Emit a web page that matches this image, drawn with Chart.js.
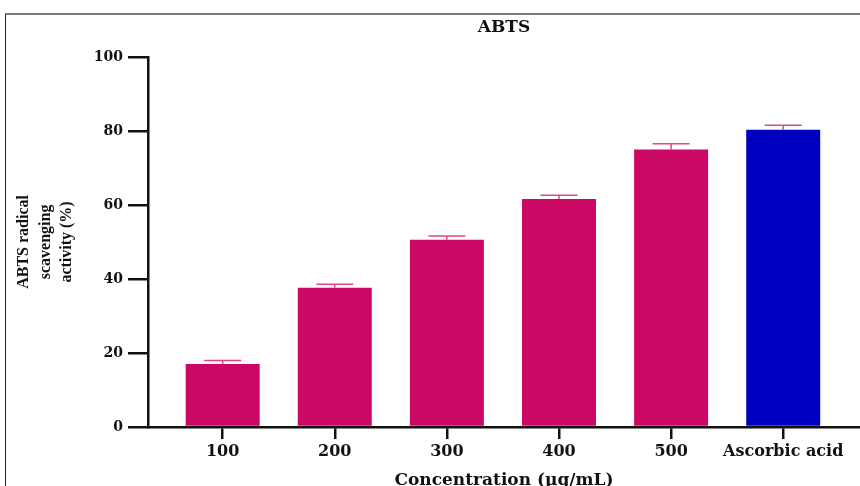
<!DOCTYPE html>
<html>
<head>
<meta charset="utf-8">
<script src="https://cdn.jsdelivr.net/npm/chart.js@4"></script>
<style>
  html, body { margin: 0; padding: 0; background: #fff; overflow: hidden; }
  #wrap { position: relative; width: 860px; height: 486px; }
  #frame {
    position: absolute; left: 5px; top: 13px; right: 0; bottom: 0;
    border-top: 2.5px solid #7a7a7a; border-left: 1.5px solid #222;
    pointer-events: none;
  }
  canvas { position: absolute; left: 0; top: 0; }
</style>
</head>
<body>
<div id="wrap">
  <canvas id="chart" width="860" height="486"></canvas>
  <div id="frame"></div>
</div>
<script>
// chart data
const categories = ['100', '200', '300', '400', '500', 'Ascorbic acid'];
const activity = [17.0, 37.6, 50.6, 61.6, 75.0, 80.3];
const errors = [1.0, 1.0, 1.0, 1.0, 1.5, 1.2];
const barColors = ['#cc0866', '#cc0866', '#cc0866', '#cc0866', '#cc0866', '#0000c0'];
const yTicks = [0, 20, 40, 60, 80, 100];

// Error bars drawn on top of the bars
const errorBarPlugin = {
  id: 'errorBars',
  afterDatasetsDraw(chart) {
    const ctx = chart.ctx;
    const yScale = chart.scales.y;
    const meta = chart.getDatasetMeta(0);
    ctx.save();
    ctx.strokeStyle = '#e2468a';
    ctx.lineWidth = 1.5;
    meta.data.forEach((bar, i) => {
      const top = yScale.getPixelForValue(activity[i] + errors[i]);
      const half = bar.width / 4;
      ctx.beginPath();
      ctx.moveTo(bar.x, bar.y);
      ctx.lineTo(bar.x, top);
      ctx.moveTo(bar.x - half, top);
      ctx.lineTo(bar.x + half, top);
      ctx.stroke();
    });
    ctx.restore();
  }
};

const ctx = document.getElementById('chart').getContext('2d');
new Chart(ctx, {
  type: 'bar',
  data: {
    datasets: [{
      data: categories.map((c, i) => ({ x: i, y: activity[i] })),
      backgroundColor: barColors,
      borderWidth: 0,
      categoryPercentage: 1,
      barPercentage: 0.66
    }]
  },
  options: {
    responsive: false,
    animation: false,
    devicePixelRatio: 1,
    layout: { padding: 0 },
    scales: {
      x: {
        type: 'linear',
        offset: false,
        min: -0.666,
        max: 5.685,
        afterBuildTicks: (scale) => { scale.ticks = categories.map((c, i) => ({ value: i })); },
        afterFit: (scale) => { scale.height = 59; },
        ticks: {
          autoSkip: false,
          maxRotation: 0,
          padding: 3,
          color: '#111',
          font: { family: 'DejaVu Serif', weight: 'bold', size: 16 },
          callback: (v) => categories[v]
        },
        grid: { offset: false, drawOnChartArea: false, tickLength: 12, color: '#111', lineWidth: 2.5 },
        border: { color: '#111', width: 2.5 },
        title: {
          display: true,
          text: 'Concentration (µg/mL)',
          color: '#111',
          font: { family: 'DejaVu Serif', weight: 'bold', size: 17 },
          padding: { top: 4, bottom: -5 }
        }
      },
      y: {
        min: 0,
        max: 100,
        afterBuildTicks: (scale) => { scale.ticks = yTicks.map(v => ({ value: v })); },
        afterFit: (scale) => { scale.width = 148; },
        ticks: {
          padding: 5,
          color: '#111',
          font: { family: 'DejaVu Serif', weight: 'bold', size: 14 }
        },
        grid: { drawOnChartArea: false, tickLength: 20, color: '#111', lineWidth: 2.5 },
        border: { color: '#111', width: 2.5 },
        title: {
          display: true,
          text: ['ABTS radical', 'scavenging', 'activity (%)'],
          color: '#111',
          font: { family: 'Liberation Serif', weight: 'bold', size: 16, lineHeight: 1.35 },
          padding: { top: 13, bottom: 4 }
        }
      }
    },
    plugins: {
      legend: { display: false },
      tooltip: { enabled: false },
      title: {
        display: true,
        fullSize: false,
        text: 'ABTS',
        color: '#111',
        font: { family: 'DejaVu Serif', weight: 'bold', size: 17 },
        padding: { top: 17, bottom: 19.5 }
      }
    }
  },
  plugins: [errorBarPlugin]
});
</script>
</body>
</html>
